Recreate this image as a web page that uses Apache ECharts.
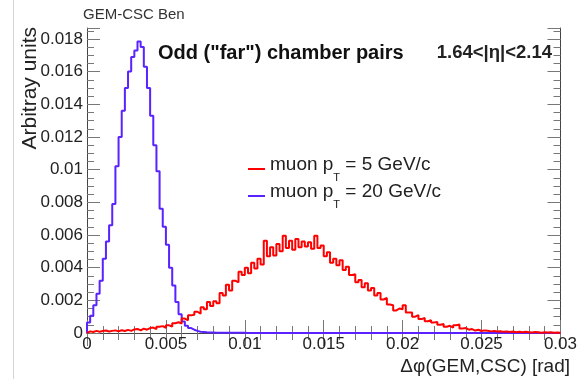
<!DOCTYPE html>
<html>
<head>
<meta charset="utf-8">
<script src="https://cdn.jsdelivr.net/npm/echarts@6/dist/echarts.min.js"></script>
<style>
  html, body { margin: 0; padding: 0; background: #fff; }
  #chart { width: 580px; height: 379px; }
</style>
</head>
<body>
<div id="chart"></div>
<script>
// histogram binning: 150 bins of 0.0002 rad from 0 to 0.03
const BIN_WIDTH = 0.0002
const X_MAX = 0.03
const Y_MAX = 0.01867
const Y_MAJOR = 0.002
const Y_MINOR = 0.0005
// bin contents in units of 1e-3
const VALUE_UNIT = 0.001

const xTickLabels = ['0', '0.005', '0.01', '0.015', '0.02', '0.025', '0.03']
const yTickLabels = ['0', '0.002', '0.004', '0.006', '0.008', '0.01', '0.012', '0.014', '0.016', '0.018']

const seriesNames = ['muon p_T = 5 GeV/c', 'muon p_T = 20 GeV/c']

// muon pT = 5 GeV/c (red)
const pt5Values = [
  0.10, 0.06, 0.13, 0.08, 0.12, 0.15, 0.09, 0.13, 0.16, 0.10,
  0.17, 0.12, 0.19, 0.13, 0.22, 0.25, 0.16, 0.27, 0.20, 0.30,
  0.33, 0.24, 0.38, 0.42, 0.31, 0.47, 0.40, 0.60, 0.66, 0.58,
  0.88, 0.78, 1.08, 1.12, 1.30, 1.18, 1.58, 1.45, 1.90, 1.66,
  1.95, 1.82, 2.45, 2.30, 2.95, 2.60, 3.20, 3.10, 3.75, 3.55,
  4.00, 3.65, 4.30, 3.95, 4.55, 4.20, 5.65, 4.70, 5.25, 4.75,
  5.45, 5.00, 5.95, 5.20, 5.65, 5.10, 5.75, 5.25, 5.60, 5.30,
  5.55, 5.15, 5.95, 5.20, 5.35, 4.70, 4.95, 4.30, 4.55, 4.15,
  4.45, 3.85, 4.05, 3.55, 3.60, 3.10, 3.25, 2.80, 3.05, 2.60,
  2.75, 2.30, 2.45, 2.05, 2.15, 1.75, 1.70, 1.38, 1.50, 1.45,
  1.70, 1.25, 1.25, 1.00, 1.10, 0.85, 0.92, 0.72, 0.78, 0.65,
  0.68, 0.50, 0.55, 0.38, 0.44, 0.32, 0.48, 0.52, 0.28, 0.30,
  0.20, 0.24, 0.15, 0.20, 0.12, 0.16, 0.14, 0.10, 0.13, 0.09,
  0.11, 0.07, 0.10, 0.06, 0.09, 0.05, 0.08, 0.04, 0.07, 0.05,
  0.03, 0.06, 0.04, 0.02, 0.05, 0.03, 0.04, 0.02, 0.03, 0.02
]

// muon pT = 20 GeV/c (blue)
const pt20Values = [
  0.65, 1.05, 1.70, 2.40, 3.20, 4.55, 5.60, 6.60, 7.90, 10.20,
  12.00, 13.60, 15.00, 16.00, 16.90, 17.30, 17.85, 17.50, 16.30, 15.00,
  13.30, 11.50, 9.90, 7.60, 6.50, 5.40, 4.00, 2.90, 1.90, 1.15,
  0.70, 0.45, 0.30, 0.20, 0.13, 0.08, 0.06, 0.04, 0.03, 0.03,
  0.02, 0.02, 0.02, 0.01, 0.01, 0.01, 0.01, 0.01, 0.01, 0.01,
  0, 0, 0, 0, 0, 0, 0, 0, 0, 0,
  0, 0, 0, 0, 0, 0, 0, 0, 0, 0,
  0, 0, 0, 0, 0, 0, 0, 0, 0, 0,
  0, 0, 0, 0, 0, 0, 0, 0, 0, 0,
  0, 0, 0, 0, 0, 0, 0, 0, 0, 0,
  0, 0, 0, 0, 0, 0, 0, 0, 0, 0,
  0, 0, 0, 0, 0, 0, 0, 0, 0, 0,
  0, 0, 0, 0, 0, 0, 0, 0, 0, 0,
  0, 0, 0, 0, 0, 0, 0, 0, 0, 0,
  0, 0, 0, 0, 0, 0, 0, 0, 0, 0
]

const FONT = '"Liberation Sans", Arial, Helvetica, sans-serif'
const COLORS = { red: '#ff0000', blue: '#5a22ff', frame: '#444', tick: '#777', text: '#222' }

// step outline of a histogram: [left edge, content] pairs closed at both ends
function toOutline (values) {
  const pts = [[0, 0]]
  values.forEach((v, i) => pts.push([i * BIN_WIDTH, v * VALUE_UNIT]))
  pts.push([values.length * BIN_WIDTH, values[values.length - 1] * VALUE_UNIT])
  return pts
}

function labelFor (labels, step) {
  return value => {
    const k = Math.round(value / step)
    if (Math.abs(value - k * step) > step * 1e-6 || k >= labels.length) return ''
    return labels[k]
  }
}

function xAxisBase (position, showLabel) {
  return {
    type: 'value',
    position,
    min: 0,
    max: X_MAX,
    interval: 0.005,
    axisLine: { show: true, lineStyle: { color: COLORS.frame, width: 1 } },
    axisTick: { show: true, inside: true, length: 13, lineStyle: { color: COLORS.tick } },
    minorTick: { show: true, splitNumber: 5, length: 7, lineStyle: { color: COLORS.tick } },
    splitLine: { show: false },
    axisLabel: {
      show: showLabel,
      margin: 3,
      fontSize: 17,
      fontFamily: FONT,
      color: COLORS.text,
      formatter: labelFor(xTickLabels, 0.005)
    }
  }
}

function yAxisBase (position, interval, tickLength, showLine, showLabel) {
  return {
    type: 'value',
    position,
    min: 0,
    max: Y_MAX,
    interval,
    axisLine: { show: showLine, lineStyle: { color: COLORS.frame, width: 1 } },
    axisTick: { show: true, inside: true, length: tickLength, lineStyle: { color: COLORS.tick } },
    splitLine: { show: false },
    axisLabel: {
      show: showLabel,
      margin: 4,
      fontSize: 17,
      fontFamily: FONT,
      color: COLORS.text,
      formatter: labelFor(yTickLabels, Y_MAJOR)
    }
  }
}

const chart = echarts.init(document.getElementById('chart'), null, { renderer: 'canvas' })

const option = {
  backgroundColor: '#fff',
  animation: false,
  title: {
    text: 'GEM-CSC Bending Angle',
    left: 83,
    top: 7,
    padding: 0,
    textStyle: {
      fontSize: 15,
      fontWeight: 'normal',
      fontFamily: FONT,
      color: '#333',
      width: 104,
      overflow: 'truncate',
      ellipsis: ''
    }
  },
  legend: {
    orient: 'vertical',
    left: 248,
    top: 155,
    padding: 0,
    itemGap: -1,
    itemWidth: 17,
    itemHeight: 2,
    icon: 'rect',
    data: seriesNames,
    // "p_T" -> p with a subscript T; the empty h token only sets the row height
    formatter: name => {
      const parts = name.split('_T')
      return '{h|\u200b}{m|' + parts[0] + '}{sub|T}{m|' + parts[1] + '}'
    },
    textStyle: {
      fontFamily: FONT,
      color: COLORS.text,
      rich: {
        h: { fontSize: 1, lineHeight: 28 },
        m: { fontSize: 19, lineHeight: 20, verticalAlign: 'top', fontFamily: FONT, color: COLORS.text },
        sub: { fontSize: 11, verticalAlign: 'bottom', fontFamily: FONT, color: COLORS.text }
      }
    }
  },
  grid: { left: 87, right: 9, top: 28, bottom: 46, containLabel: false },
  xAxis: [xAxisBase('bottom', true), xAxisBase('top', false)],
  yAxis: [
    yAxisBase('left', Y_MAJOR, 13, true, true),
    yAxisBase('left', Y_MINOR, 7, false, false),
    yAxisBase('right', Y_MAJOR, 13, true, false),
    yAxisBase('right', Y_MINOR, 7, false, false)
  ],
  series: [
    {
      name: seriesNames[1],
      type: 'line',
      step: 'end',
      showSymbol: false,
      xAxisIndex: 0,
      yAxisIndex: 0,
      color: COLORS.blue,
      lineStyle: { color: COLORS.blue, width: 2 },
      data: toOutline(pt20Values)
    },
    {
      name: seriesNames[0],
      type: 'line',
      step: 'end',
      showSymbol: false,
      xAxisIndex: 0,
      yAxisIndex: 0,
      color: COLORS.red,
      lineStyle: { color: COLORS.red, width: 2 },
      data: toOutline(pt5Values)
    }
  ],
  graphic: [
    {
      type: 'line',
      shape: { x1: 13.5, y1: 0, x2: 13.5, y2: 379 },
      style: { stroke: '#d4d4d4', lineWidth: 1 }
    },
    {
      type: 'text',
      x: 30,
      y: 27,
      rotation: Math.PI / 2,
      style: {
        text: 'Arbitray units',
        fontSize: 21,
        fontFamily: FONT,
        fill: COLORS.text,
        align: 'right',
        verticalAlign: 'middle'
      }
    },
    {
      type: 'text',
      x: 570,
      y: 367,
      style: {
        text: 'Δφ(GEM,CSC) [rad]',
        fontSize: 19,
        fontFamily: FONT,
        fill: COLORS.text,
        align: 'right',
        verticalAlign: 'middle'
      }
    },
    {
      type: 'text',
      x: 158,
      y: 53,
      style: {
        text: 'Odd ("far") chamber pairs',
        fontSize: 20,
        fontWeight: 'bold',
        fontFamily: FONT,
        fill: '#111',
        align: 'left',
        verticalAlign: 'middle'
      }
    },
    {
      type: 'text',
      x: 552,
      y: 53,
      style: {
        text: '1.64<|η|<2.14',
        fontSize: 18.5,
        fontWeight: 'bold',
        fontFamily: FONT,
        fill: '#222',
        align: 'right',
        verticalAlign: 'middle'
      }
    }
  ]
}

chart.setOption(option)
</script>
</body>
</html>
